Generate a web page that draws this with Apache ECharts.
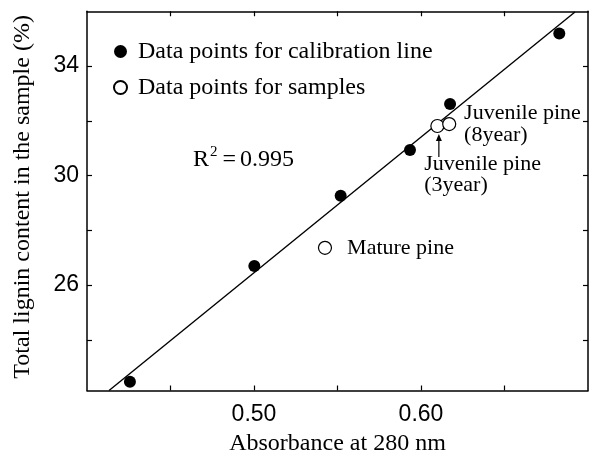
<!DOCTYPE html>
<html><head><meta charset="utf-8">
<script src="https://cdn.jsdelivr.net/npm/echarts@6/dist/echarts.min.js"></script>
<style>html,body{margin:0;padding:0;background:#fff}#c{width:589px;height:452px}</style>
</head><body><div id="c"></div>
<script>
const calibX = [0.4257, 0.5002, 0.5519, 0.5934, 0.6174, 0.6828];
const calibY = [22.47, 26.70, 29.26, 30.93, 32.61, 35.19];
const sampleNames = ['Juvenile pine\n(3year)', 'Juvenile pine\n(8year)', 'Mature pine'];
const sampleX = [0.6098, 0.6169, 0.5425];
const sampleY = [31.81, 31.88, 27.36];
const fitX = [0.4132, 0.6922];
const fitY = [22.15, 35.97];
const xTicks = [0.45, 0.50, 0.55, 0.60, 0.65];
const xTickLabels = [0.50, 0.60];
const yTicks = [24, 26, 28, 30, 32, 34];
const yTickLabels = [26, 30, 34];

const SERIF = 'Liberation Serif';
const SANS = 'Liberation Sans';
const chart = echarts.init(document.getElementById('c'));

const axLine = {show: true, onZero: false, lineStyle: {color: '#000', width: 1.5}};
const X_MIN = 0.40, X_MAX = 0.70, Y_MIN = 22.15, Y_MAX = 36;

function xAx(pos, showLabel) {
  return {
    type: 'value', position: pos, min: X_MIN, max: X_MAX,
    axisLine: axLine,
    axisTick: {show: true, inside: true, length: 5, customValues: xTicks, lineStyle: {color: '#000', width: 1.2}},
    axisLabel: {show: showLabel, customValues: xTickLabels, formatter: v => v.toFixed(2),
      fontFamily: SANS, fontSize: 23, color: '#000', margin: 13},
    splitLine: {show: false},
    name: showLabel ? 'Absorbance at 280 nm' : '',
    nameLocation: 'middle', nameGap: 39,
    nameTextStyle: {fontFamily: SERIF, fontSize: 24, color: '#000'}
  };
}
function yAx(pos, showLabel) {
  return {
    type: 'value', position: pos, min: Y_MIN, max: Y_MAX,
    axisLine: axLine,
    axisTick: {show: true, inside: true, length: 5, customValues: yTicks, lineStyle: {color: '#000', width: 1.2}},
    axisLabel: {show: showLabel, customValues: yTickLabels, fontFamily: SANS, fontSize: 23, color: '#000', margin: 8},
    splitLine: {show: false},
    name: showLabel ? 'Total lignin content in the sample (%)' : '',
    nameLocation: 'middle', nameGap: 52, nameRotate: 90,
    nameTextStyle: {fontFamily: SERIF, fontSize: 24, color: '#000', padding: [0, 0, 0, 8]}
  };
}

const sampleLabelPos = [
  {position: [-6, 35], lineHeight: 21},
  {position: [22, -15], lineHeight: 22},
  {position: 'right', distance: 15, lineHeight: 22}
];

const option = {
  animation: false,
  backgroundColor: '#fff',
  grid: {left: 87, right: 1, top: 11.25, bottom: 61.5, containLabel: false, outerBoundsMode: 'none'},
  xAxis: [xAx('bottom', true), xAx('top', false)],
  yAxis: [yAx('left', true), yAx('right', false)],
  legend: {
    orient: 'vertical', left: 108, top: 34, itemWidth: 13, itemHeight: 13, itemGap: 11,
    textStyle: {fontFamily: SERIF, fontSize: 24, color: '#000', lineHeight: 25, padding: [0, 0, 0, 6]},
    data: [
      {name: 'Data points for calibration line', icon: 'circle'},
      {name: 'Data points for samples', icon: 'circle'}
    ]
  },
  series: [
    {
      name: 'fit', type: 'line', data: fitX.map((x, i) => [x, fitY[i]]),
      symbol: 'none', lineStyle: {color: '#000', width: 1.4}, z: 1, silent: true
    },
    {
      name: 'Data points for calibration line', type: 'scatter', symbol: 'circle', symbolSize: 12,
      data: calibX.map((x, i) => [x, calibY[i]]),
      itemStyle: {color: '#000', opacity: 1}, z: 3
    },
    {
      name: 'Data points for samples', type: 'scatter', symbol: 'circle', symbolSize: 13,
      data: sampleX.map((x, i) => ({
        value: [x, sampleY[i]], name: sampleNames[i],
        label: Object.assign({show: true, formatter: sampleNames[i], align: 'left',
          verticalAlign: i === 2 ? 'middle' : 'top',
          fontFamily: SERIF, fontSize: 22, color: '#000'}, sampleLabelPos[i])
      })),
      itemStyle: {color: '#fff', borderColor: '#000', borderWidth: 1.2, opacity: 1}, z: 4
    }
  ],
  graphic: [{
    type: 'text', left: 193, top: 145,
    style: {
      text: '{a|R}{s|2}{e|=}{a|0.995}',
      rich: {
        a: {fontFamily: SERIF, fontSize: 24, fill: '#000', verticalAlign: 'bottom'},
        e: {fontFamily: SERIF, fontSize: 24, fill: '#000', verticalAlign: 'bottom', padding: [0, 4, 0, 5]},
        s: {fontFamily: SERIF, fontSize: 15, fill: '#000', verticalAlign: 'top', padding: [0, 0, 12, 1]}
      }
    }
  }]
};
chart.setOption(option);

// arrow pointing up to the 3-year sample
const p = chart.convertToPixel({xAxisIndex: 0, yAxisIndex: 0}, [sampleX[0], sampleY[0]]);
const ax = p[0] + 1.5, y0 = p[1] + 31, y1 = p[1] + 8;
chart.setOption({graphic: [
  option.graphic[0],
  {type: 'line', shape: {x1: ax, y1: y0, x2: ax, y2: y1 + 4}, style: {stroke: '#000', lineWidth: 1.2}},
  {type: 'polygon', shape: {points: [[ax, y1], [ax - 3, y1 + 7], [ax + 3, y1 + 7]]}, style: {fill: '#000'}}
]});
</script></body></html>
